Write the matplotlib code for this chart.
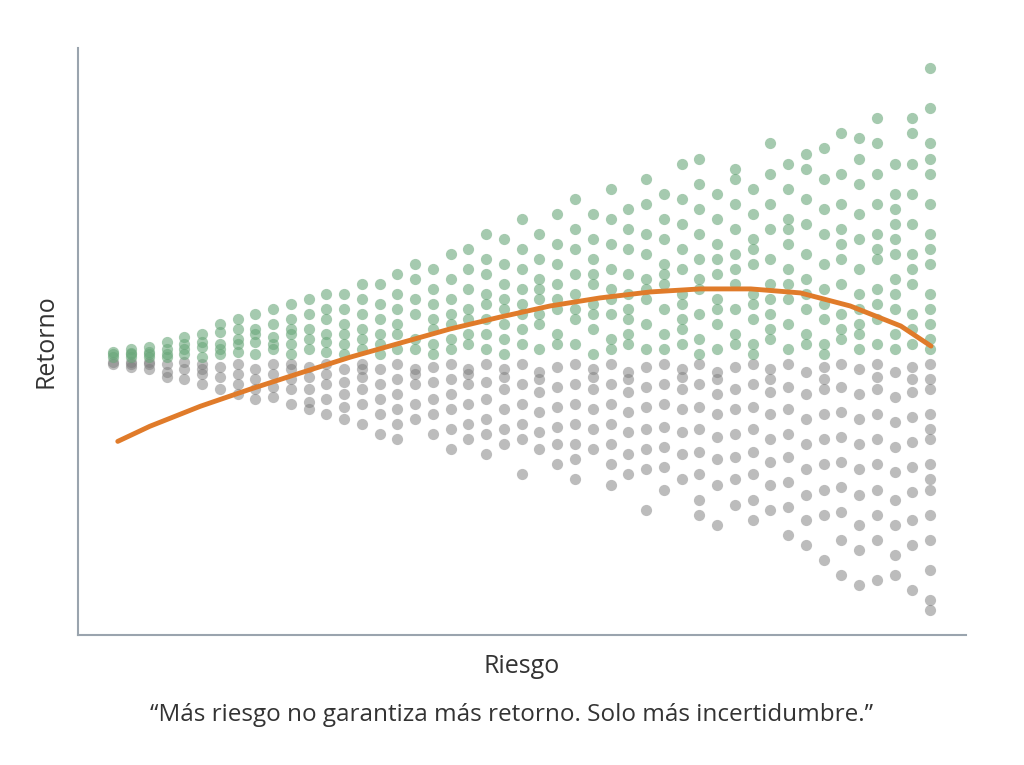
import matplotlib.pyplot as plt

plt.rcParams['font.family'] = ['Open Sans', 'DejaVu Sans']

# Columnas de riesgo (x) y retornos (y)
col_x = [0.4, 0.6, 0.8, 1.0, 1.2, 1.4, 1.6, 1.8, 2.0, 2.2, 2.4, 2.6, 2.8, 3.0, 3.2, 3.4,
         3.6, 3.8, 4.0, 4.2, 4.4, 4.6, 4.8, 5.0, 5.2, 5.4, 5.6, 5.8, 6.0, 6.2, 6.4, 6.6,
         6.8, 7.0, 7.2, 7.4, 7.6, 7.8, 8.0, 8.2, 8.4, 8.6, 8.8, 9.0, 9.2, 9.4, 9.6]

verde_y = [
    [.05, .1, .15], [.05, .12, .2, .1], [.05, .15, .25, .1], [.1, .2, .35, .05],
    [.1, .3, .45, .2], [.05, .25, .5, .35], [.1, .3, .55, .7, .2], [.15, .4, .6, .8, .3],
    [.1, .35, .6, .9, .5], [.2, .45, .7, 1.0, .3], [.1, .5, .8, .6, 1.1, .3],
    [.2, .6, .9, 1.2, .4], [.15, .5, .8, 1.0, 1.3, .35], [.3, .7, 1.0, 1.3, .5, .1],
    [.2, .6, .9, 1.2, 1.5, .4], [.3, .8, 1.1, 1.5, .5, .1], [.2, .7, 1.0, 1.3, 1.7, .5],
    [.4, .9, 1.2, 1.6, 1.9, .2], [.3, .8, 1.1, 1.4, 1.8, .6, .1],
    [.2, .7, 1.2, 1.6, 2.1, .9, .4], [.5, 1.0, 1.4, 1.8, 2.2, .3, .8],
    [.2, .8, 1.3, 1.7, 2.0, 2.5, 1.1, .5], [.4, 1.0, 1.5, 1.9, 2.4, .7, .1, 1.2],
    [.3, .9, 1.4, 1.8, 2.2, 2.8, 1.1, .6], [.2, .7, 1.2, 1.6, 2.0, 2.5, .9, 1.4],
    [.5, 1.0, 1.5, 1.9, 2.3, 2.9, .3, 1.2], [.3, .8, 1.3, 1.7, 2.2, 2.6, 3.2, 1.0],
    [.1, .6, 1.1, 1.5, 2.0, 2.4, 2.9, .9, 1.7], [.4, .9, 1.4, 1.8, 2.3, 2.8, 3.4, 1.2, .2],
    [.3, .8, 1.3, 1.7, 2.2, 2.6, 3.0, 1.0, .5], [.2, .7, 1.2, 1.6, 2.1, 2.5, 3.1, 3.6, 1.4],
    [.5, 1.0, 1.5, 1.9, 2.4, 2.8, 3.3, .2, 1.7], [.3, .8, 1.3, 1.8, 2.2, 2.7, 3.2, 3.9, 1.1, .6],
    [.4, .9, 1.4, 2.0, 2.5, 3.0, 3.5, 4.0, 1.6, .1], [.2, .7, 1.2, 1.7, 2.3, 2.8, 3.3, 1.0, 2.0],
    [.5, 1.0, 1.5, 2.1, 2.6, 3.1, 3.6, .3, 1.8, 3.8], [.3, .8, 1.3, 1.9, 2.4, 2.9, 3.4, 1.1, .1, 2.2],
    [.4, .9, 1.5, 2.0, 2.6, 3.1, 3.7, 4.3, 1.2, .6], [.2, .7, 1.2, 1.8, 2.3, 2.8, 3.4, 3.9, 1.5, 2.6],
    [.5, 1.0, 1.6, 2.1, 2.7, 3.2, 3.8, .3, 1.3, 4.1], [.3, .8, 1.4, 1.9, 2.5, 3.0, 3.6, 4.2, 1.1, .1],
    [.4, .9, 1.5, 2.0, 2.6, 3.1, 3.7, .6, 2.3, 4.5], [.2, .7, 1.3, 1.8, 2.4, 2.9, 3.5, 4.0, 1.0, .5, 4.4],
    [.3, .8, 1.4, 2.0, 2.5, 3.1, 3.7, 4.3, 1.1, 2.2, 4.8], [.5, 1.0, 1.6, 2.1, 2.7, 3.3, 3.9, .2, 1.3, 2.4, 3.0],
    [.3, .9, 1.5, 2.1, 2.7, 3.3, 3.9, 4.5, .6, 1.8, 4.8],
    [.2, .7, 1.3, 1.9, 2.5, 3.1, 3.7, 4.3, 5.8, .4, 1.0, 2.2, 5.0, 4.0],
]

gris_y = [
    [-.05, -.1], [-.05, -.15, -.1], [-.1, -.2, -.05], [-.1, -.25, -.35], [-.05, -.2, -.4],
    [-.1, -.3, -.5, -.2], [-.15, -.35, -.6], [-.1, -.3, -.5, -.7], [-.2, -.4, -.6, -.8],
    [-.1, -.3, -.55, -.75], [-.2, -.4, -.6, -.9, -.1], [-.15, -.35, -.6, -.85, -1.0],
    [-.1, -.3, -.5, -.8, -1.1], [-.2, -.45, -.7, -.95, -1.2], [-.1, -.35, -.6, -.9, -1.3, -.2],
    [-.2, -.5, -.8, -1.1, -1.5], [-.1, -.4, -.7, -1.0, -1.3, -1.6], [-.2, -.5, -.9, -1.2, -.3],
    [-.15, -.45, -.8, -1.1, -1.5], [-.1, -.4, -.7, -1.0, -1.4, -1.8],
    [-.2, -.5, -.9, -1.3, -1.6, -.3], [-.1, -.45, -.8, -1.2, -1.5, -1.9],
    [-.2, -.6, -1.0, -1.4, -1.7, -.35], [-.1, -.5, -.9, -1.3, -1.6, -2.3],
    [-.25, -.65, -1.05, -1.45, -1.8, -.4], [-.15, -.55, -.95, -1.35, -1.7, -2.1],
    [-.1, -.5, -.9, -1.3, -1.7, -2.0, -2.4], [-.2, -.6, -1.0, -1.4, -1.8, -.35],
    [-.1, -.5, -.9, -1.3, -1.7, -2.1, -2.5], [-.25, -.65, -1.05, -1.45, -1.9, -2.3, -.4],
    [-.15, -.55, -.95, -1.4, -1.8, -2.2, -3.0], [-.1, -.5, -.9, -1.35, -1.75, -2.15, -2.6],
    [-.2, -.6, -1.0, -1.45, -1.9, -2.4, -.35], [-.1, -.5, -.95, -1.4, -1.85, -2.3, -2.8, -3.1],
    [-.25, -.7, -1.1, -1.55, -2.0, -2.5, -.4, -3.3], [-.15, -.6, -1.0, -1.5, -1.95, -2.4, -2.9],
    [-.1, -.5, -.95, -1.4, -1.85, -2.3, -2.8, -3.2], [-.2, -.65, -1.1, -1.6, -2.05, -2.5, -3.0, -.4],
    [-.1, -.55, -1.0, -1.5, -1.95, -2.45, -2.95, -3.5], [-.25, -.7, -1.2, -1.7, -2.2, -2.7, -3.2, -3.7],
    [-.15, -.6, -1.1, -1.6, -2.1, -2.6, -3.1, -.4, -4.0],
    [-.1, -.55, -1.05, -1.55, -2.05, -2.55, -3.05, -3.6, -4.3],
    [-.2, -.7, -1.2, -1.7, -2.2, -2.7, -3.3, -3.8, -4.5],
    [-.1, -.6, -1.1, -1.6, -2.1, -2.6, -3.1, -3.6, -.35, -4.4],
    [-.25, -.75, -1.25, -1.75, -2.25, -2.8, -3.3, -3.9, -4.3],
    [-.15, -.65, -1.15, -1.65, -2.15, -2.65, -3.2, -3.7, -4.6, -.4],
    [-.1, -.6, -1.1, -1.6, -2.1, -2.6, -3.1, -3.6, -4.2, -5.0, -4.8, -.4, -1.4, -2.4],
]

# Curva de tendencia (leida punto a punto)
curva_x = [0.45, 0.81, 1.38, 1.94, 2.5, 3.07, 3.63, 4.19, 4.76, 5.32, 5.88, 6.45,
           7.01, 7.58, 8.14, 8.7, 9.27, 9.61]
curva_y = [-1.64, -1.34, -0.94, -0.6, -0.28, 0.04, 0.32, 0.6, 0.84, 1.06, 1.22, 1.34,
           1.4, 1.4, 1.32, 1.06, 0.66, 0.26]

gx, gy = [], []
for x, ys in zip(col_x, verde_y):
    gx += [x] * len(ys)
    gy += ys
kx, ky = [], []
for x, ys in zip(col_x, gris_y):
    kx += [x] * len(ys)
    ky += ys

fig = plt.figure(figsize=(10.24, 7.65), dpi=100)
ax = fig.add_axes([0.076, 0.17, 0.867, 0.767])

ax.scatter(kx, ky, s=65, color="#7b7b7b", alpha=0.5, linewidths=0)
ax.scatter(gx, gy, s=65, color="#6aa77a", alpha=0.6, linewidths=0)
ax.plot(curva_x, curva_y, color="#e07b2a", lw=3.5, solid_capstyle="round")

ax.set_xlim(0, 10)
ax.set_ylim(-5.5, 6.2)
ax.set_xticks([])
ax.set_yticks([])
for s in ["top", "right"]:
    ax.spines[s].set_visible(False)
for s in ["left", "bottom"]:
    ax.spines[s].set_color("#9aa4ae")
    ax.spines[s].set_linewidth(1.5)

ax.set_xlabel("Riesgo", fontsize=18, color="#333333", labelpad=14)
ax.set_ylabel("Retorno", fontsize=18, color="#333333", labelpad=14)
fig.text(0.5, 0.057, "“Más riesgo no garantiza más retorno. Solo más incertidumbre.”",
         ha="center", fontsize=17.5, color="#333333")

fig.savefig("out.png", dpi=100)
